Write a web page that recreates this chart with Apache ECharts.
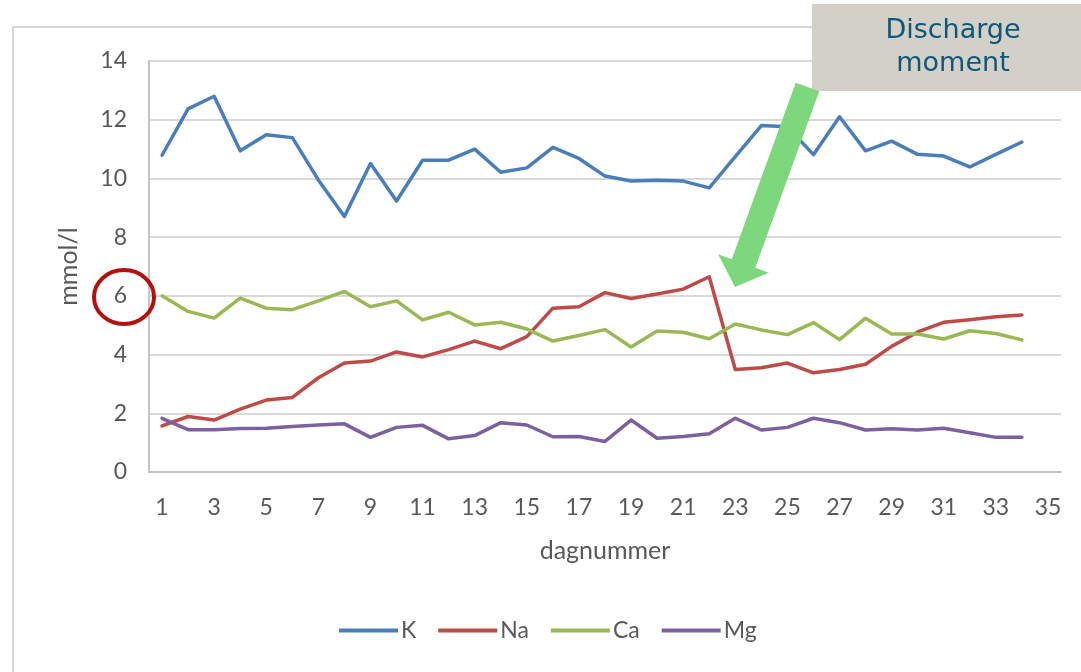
<!DOCTYPE html>
<html>
<head>
<meta charset="utf-8">
<script src="https://cdn.jsdelivr.net/npm/echarts@6/dist/echarts.min.js"></script>
<style>
  html, body { margin: 0; padding: 0; background: #ffffff; }
  #chart { width: 1081px; height: 672px; }
</style>
</head>
<body>
<div id="chart"></div>
<script>
// Day numbers on the category axis (measurements exist for days 1–34)
const days = ['1','2','3','4','5','6','7','8','9','10','11','12','13','14','15','16','17','18',
  '19','20','21','22','23','24','25','26','27','28','29','30','31','32','33','34','35'];

// Concentrations in mmol/l per day
const K  = [10.79, 12.37, 12.80, 10.94, 11.49, 11.39, 9.95, 8.70, 10.51, 9.23, 10.62, 10.62, 11.00, 10.21,
  10.36, 11.06, 10.68, 10.08, 9.91, 9.94, 9.91, 9.68, 10.74, 11.80, 11.76, 10.81, 12.10, 10.94, 11.27,
  10.82, 10.76, 10.39, 10.82, 11.24];
const Na = [1.57, 1.89, 1.77, 2.14, 2.45, 2.54, 3.21, 3.71, 3.78, 4.09, 3.92, 4.17, 4.46, 4.20, 4.61,
  5.58, 5.63, 6.11, 5.91, 6.06, 6.23, 6.65, 3.49, 3.55, 3.71, 3.38, 3.49, 3.67, 4.28, 4.77, 5.10, 5.19,
  5.29, 5.35];
const Ca = [6.00, 5.47, 5.24, 5.92, 5.58, 5.53, 5.83, 6.15, 5.63, 5.83, 5.18, 5.44, 5.01, 5.10, 4.87,
  4.46, 4.65, 4.85, 4.26, 4.80, 4.76, 4.54, 5.04, 4.84, 4.68, 5.09, 4.51, 5.24, 4.70, 4.70, 4.53, 4.81,
  4.72, 4.50];
const Mg = [1.83, 1.44, 1.44, 1.48, 1.49, 1.55, 1.60, 1.64, 1.18, 1.52, 1.59, 1.13, 1.24, 1.68, 1.60,
  1.20, 1.21, 1.04, 1.77, 1.15, 1.21, 1.30, 1.83, 1.43, 1.52, 1.83, 1.68, 1.43, 1.47, 1.43, 1.49, 1.34,
  1.18, 1.18];

const seriesNames = ['K', 'Na', 'Ca', 'Mg'];
const seriesData = [K, Na, Ca, Mg];
const colors = ['#4a7ebb', '#be4b48', '#98b954', '#7d60a0'];

const yTicks = { min: 0, max: 14, interval: 2 };
const fontFamily = 'Lato, "Liberation Sans", sans-serif';
const textGray = '#595959';

// Green arrow pointing from the callout down to the discharge day
function arrowPoints(top, tip, shaftW, headW, headL) {
  const dx = tip[0] - top[0], dy = tip[1] - top[1];
  const len = Math.hypot(dx, dy);
  const ux = dx / len, uy = dy / len;
  const px = -uy, py = ux;
  const bx = tip[0] - ux * headL, by = tip[1] - uy * headL;
  const s = shaftW / 2, h = headW / 2;
  return [
    [top[0] + px * s, top[1] + py * s],
    [bx + px * s, by + py * s],
    [bx + px * h, by + py * h],
    tip,
    [bx - px * h, by - py * h],
    [bx - px * s, by - py * s],
    [top[0] - px * s, top[1] - py * s]
  ];
}

const chart = echarts.init(document.getElementById('chart'), null, { renderer: 'canvas' });

chart.setOption({
  backgroundColor: '#ffffff',
  animation: false,
  color: colors,
  grid: { left: 149, right: 20, top: 61, bottom: 200, containLabel: false },
  legend: {
    bottom: 25,
    left: 334,
    icon: 'rect',
    itemWidth: 59,
    itemHeight: 4,
    itemGap: 22,
    textStyle: { color: textGray, fontSize: 23, fontFamily: fontFamily, padding: [0, 0, 0, -2] },
    data: seriesNames
  },
  xAxis: {
    type: 'category',
    data: days,
    boundaryGap: true,
    name: 'dagnummer',
    nameLocation: 'middle',
    nameGap: 66,
    nameTextStyle: { color: textGray, fontSize: 25, fontFamily: fontFamily },
    axisLine: { lineStyle: { color: '#c4c4c4', width: 2 } },
    axisTick: { show: false },
    axisLabel: { interval: 1, color: textGray, fontSize: 23, fontFamily: fontFamily, margin: 24 },
    splitLine: { show: false }
  },
  yAxis: {
    type: 'value',
    min: yTicks.min,
    max: yTicks.max,
    interval: yTicks.interval,
    name: 'mmol/l',
    nameLocation: 'middle',
    nameGap: 68,
    nameRotate: 90,
    nameTextStyle: { color: textGray, fontSize: 25, fontFamily: fontFamily },
    axisLine: { show: true, lineStyle: { color: '#c4c4c4', width: 2 } },
    axisTick: { show: false },
    axisLabel: { color: textGray, fontSize: 23, fontFamily: fontFamily, margin: 22 },
    splitLine: { lineStyle: { color: '#d9d9d9', width: 2 } }
  },
  series: seriesNames.map((name, i) => ({
    name: name,
    type: 'line',
    data: seriesData[i],
    symbol: 'none',
    smooth: false,
    lineStyle: { width: 3.5, color: colors[i], join: 'round', cap: 'round' },
    itemStyle: { color: colors[i] },
    z: 3
  })),
  graphic: [
    // outer chart frame
    {
      type: 'rect', z: 0, silent: true,
      shape: { x: 13, y: 27, width: 1100, height: 700 },
      style: { fill: 'none', stroke: '#d6d6d6', lineWidth: 2 }
    },
    // highlight around the 6 mmol/l tick
    {
      type: 'ellipse', z: 10, silent: true,
      shape: { cx: 124, cy: 297, rx: 30, ry: 27 },
      style: { fill: 'none', stroke: '#b5100f', lineWidth: 4 }
    },
    // callout box
    {
      type: 'rect', z: 10, silent: true,
      shape: { x: 812, y: 4, width: 280, height: 87 },
      style: { fill: '#d3d0c8' }
    },
    {
      type: 'text', z: 11, silent: true,
      x: 953, y: 47,
      style: {
        text: 'Discharge\nmoment',
        fill: '#0d5878',
        font: '27px "DejaVu Sans", Verdana, sans-serif',
        lineHeight: 33,
        align: 'center',
        verticalAlign: 'middle'
      }
    },
    {
      type: 'polygon', z: 12, silent: true,
      shape: { points: arrowPoints([807.5, 87], [735, 287], 25, 54, 25) },
      style: { fill: '#7dd87d' }
    }
  ]
});
</script>
</body>
</html>
